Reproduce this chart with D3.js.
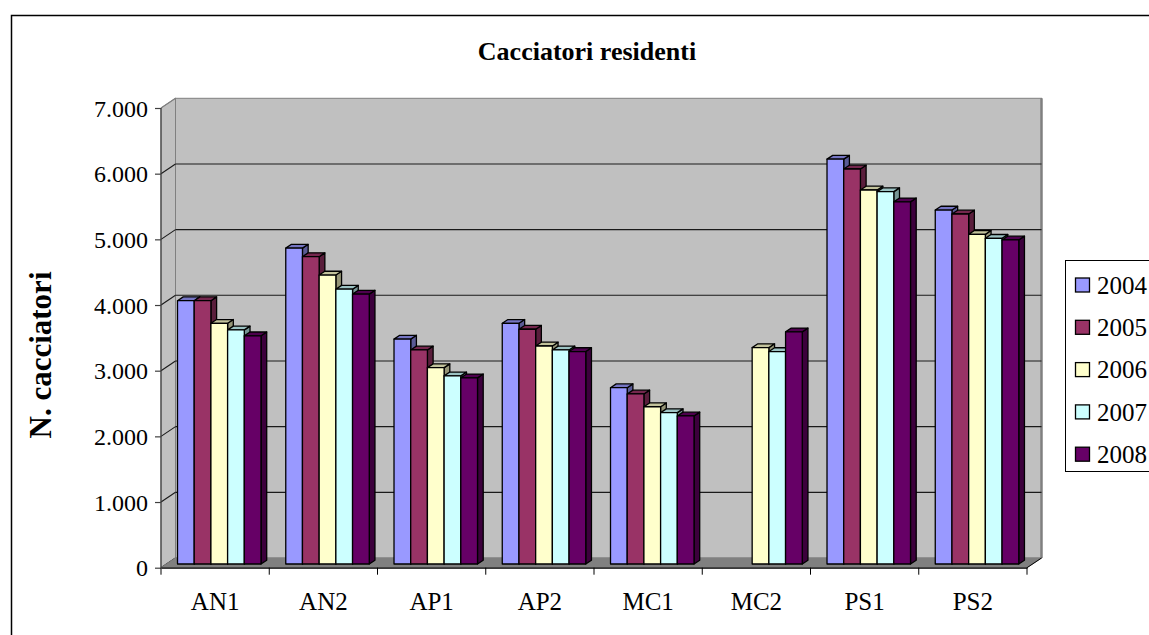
<!DOCTYPE html>
<html>
<head>
<meta charset="utf-8">
<script src="https://cdn.jsdelivr.net/npm/d3@7"></script>
<style>
  html, body { margin: 0; padding: 0; background: #fff; }
  svg { display: block; }
  svg text { font-family: "Liberation Serif", "Times New Roman", serif !important; fill: #000; }
</style>
</head>
<body>
<svg id="chart" width="1149" height="635"></svg>
<script>
// Hunters resident in each hunting district, per season
const categories = ["AN1", "AN2", "AP1", "AP2", "MC1", "MC2", "PS1", "PS2"];
const years = ["2004", "2005", "2006", "2007", "2008"];
const v2004 = [4010, 4810, 3425, 3665, 2685, null, 6165, 5390];
const v2005 = [4010, 4680, 3260, 3575, 2590, null, 6015, 5330];
const v2006 = [3665, 4400, 2990, 3320, 2395, 3295, 5695, 5020];
const v2007 = [3565, 4185, 2865, 3260, 2305, 3235, 5670, 4960];
const v2008 = [3475, 4110, 2835, 3235, 2255, 3535, 5515, 4935];
const yTicks = [0, 1000, 2000, 3000, 4000, 5000, 6000, 7000];
const seriesValues = [v2004, v2005, v2006, v2007, v2008];

const fills = ["#9999ff", "#993366", "#ffffcc", "#ccffff", "#660066"];
const shade = (c, k) => d3.rgb(c).darker(k).formatHex();

const svg = d3.select("#chart");
const SERIF = "'Liberation Serif', 'Times New Roman', serif";

// Outer chart frame
svg.append("rect")
  .attr("x", 11.5).attr("y", 15.5).attr("width", 1300).attr("height", 800)
  .attr("fill", "#fff").attr("stroke", "#000").attr("stroke-width", 1.5);

// Title
svg.append("text")
  .attr("x", 587).attr("y", 60)
  .attr("text-anchor", "middle")
  .attr("font-size", 26).attr("font-weight", "bold")
  .text("Cacciatori residenti");

// Projection: front plane + receding depth
const X0 = 161, X1 = 1027;
const DX = 14.5, DY = -9.7;          // depth of walls / floor
const y = d3.scaleLinear().domain([0, 7000]).range([567.7, 108]);
const x = d3.scaleBand().domain(categories).range([X0, X1]).paddingInner(0).paddingOuter(0);
const xs = d3.scaleBand().domain(years).range([11, 94.5]);

const line = d3.line();

// Side (left) wall
svg.append("path")
  .attr("d", line([[X0, y(7000)], [X0 + DX, y(7000) + DY], [X0 + DX, y(0) + DY], [X0, y(0)]]) + "Z")
  .attr("fill", "#c0c0c0").attr("stroke", "#808080").attr("stroke-width", 1);

// Back wall
svg.append("rect")
  .attr("x", X0 + DX).attr("y", y(7000) + DY)
  .attr("width", X1 - X0).attr("height", y(0) - y(7000))
  .attr("fill", "#c0c0c0").attr("stroke", "#808080").attr("stroke-width", 1);
svg.append("line")
  .attr("x1", X1 + DX).attr("x2", X1 + DX)
  .attr("y1", y(7000) + DY).attr("y2", y(0) + DY)
  .attr("stroke", "#808080").attr("stroke-width", 2.5);

// Gridlines on back wall and side wall
const grid = svg.append("g");
yTicks.forEach(t => {
  if (t > 0 && t < 7000) {
    grid.append("line")
      .attr("x1", X0 + DX).attr("x2", X1 + DX)
      .attr("y1", y(t) + DY).attr("y2", y(t) + DY)
      .attr("stroke", "#1a1a1a").attr("stroke-width", 1.1);
  }
  grid.append("line")
    .attr("x1", X0).attr("y1", y(t))
    .attr("x2", X0 + DX).attr("y2", y(t) + DY)
    .attr("stroke", t === 7000 ? "#808080" : "#1a1a1a").attr("stroke-width", 1.1);
});

// Floor
svg.append("path")
  .attr("d", line([[X0, y(0)], [X0 + DX, y(0) + DY], [X1 + DX, y(0) + DY], [X1, y(0)]]) + "Z")
  .attr("fill", "#808080").attr("stroke", "#808080").attr("stroke-width", 1);

// Bars (3D columns), placed part-way into the depth
const F = 0.38;
const bdx = 5.7, bdy = -3.8;
const bars = svg.append("g").attr("stroke", "#000").attr("stroke-width", 1.3).attr("stroke-linejoin", "round");
categories.forEach((cat, ci) => {
  years.forEach((yr, si) => {
    const v = seriesValues[si][ci];
    if (v == null) return;
    const xl = x(cat) + xs(yr) + F * DX;
    const w = xs.bandwidth();
    const base = y(0) + F * DY;
    const top = y(v) + F * DY;
    const c = fills[si];
    // side face
    bars.append("path")
      .attr("d", line([[xl + w, top], [xl + w + bdx, top + bdy], [xl + w + bdx, base + bdy], [xl + w, base]]) + "Z")
      .attr("fill", shade(c, 1.5));
    // top face
    bars.append("path")
      .attr("d", line([[xl, top], [xl + bdx, top + bdy], [xl + w + bdx, top + bdy], [xl + w, top]]) + "Z")
      .attr("fill", shade(c, 0.75));
    // front face
    bars.append("rect")
      .attr("x", xl).attr("y", top).attr("width", w).attr("height", base - top)
      .attr("fill", c);
  });
});

// Value axis (front edge)
svg.append("line")
  .attr("x1", X0).attr("x2", X0).attr("y1", y(7000)).attr("y2", y(0))
  .attr("stroke", "#404040").attr("stroke-width", 1.2);
const yAxis = svg.append("g").attr("transform", `translate(${X0},0)`)
  .call(d3.axisLeft(y).tickValues(yTicks).tickSize(6).tickPadding(7)
    .tickFormat(d => d3.format(",")(d).replace(/,/g, ".")));
yAxis.attr("font-family", SERIF);
yAxis.select(".domain").remove();
yAxis.selectAll("line").attr("stroke", "#404040").attr("stroke-width", 1.2);
yAxis.selectAll("text").attr("font-size", 24).style("font-family", SERIF).attr("dy", "0.34em");

// Category axis (front floor edge)
const xAxis = svg.append("g").attr("transform", `translate(0,${y(0)})`)
  .call(d3.axisBottom(x).tickSize(7).tickSizeOuter(0).tickPadding(14).tickFormat(d => d));
xAxis.attr("font-family", SERIF);
xAxis.select(".domain").attr("stroke", "#000").attr("stroke-width", 1.2);
xAxis.selectAll(".tick line").attr("transform", `translate(${-x.bandwidth() / 2},0)`).attr("stroke", "#000");
xAxis.append("line")
  .attr("x1", X1).attr("x2", X1).attr("y1", 0).attr("y2", 7).attr("stroke", "#000");
xAxis.selectAll("text").attr("font-size", 25).style("font-family", SERIF).attr("dy", "0.85em");
// floor right edge
svg.append("line")
  .attr("x1", X1).attr("y1", y(0)).attr("x2", X1 + DX).attr("y2", y(0) + DY)
  .attr("stroke", "#000").attr("stroke-width", 1);

// Y axis title
svg.append("text")
  .attr("transform", "translate(51,355) rotate(-90)")
  .attr("text-anchor", "middle")
  .attr("font-size", 31).attr("font-weight", "bold")
  .text("N. cacciatori");

// Legend
const lg = svg.append("g");
lg.append("rect")
  .attr("x", 1065.5).attr("y", 260.5).attr("width", 200).attr("height", 211)
  .attr("fill", "#fff").attr("stroke", "#000").attr("stroke-width", 1);
years.forEach((yr, i) => {
  const cy = 285 + i * 42.3;
  lg.append("rect")
    .attr("x", 1075.5).attr("y", cy - 7).attr("width", 14).attr("height", 14)
    .attr("fill", fills[i]).attr("stroke", "#000").attr("stroke-width", 1.3);
  lg.append("text")
    .attr("x", 1097).attr("y", cy).attr("dy", "0.35em")
    .attr("font-size", 25)
    .text(yr);
});
</script>
</body>
</html>
